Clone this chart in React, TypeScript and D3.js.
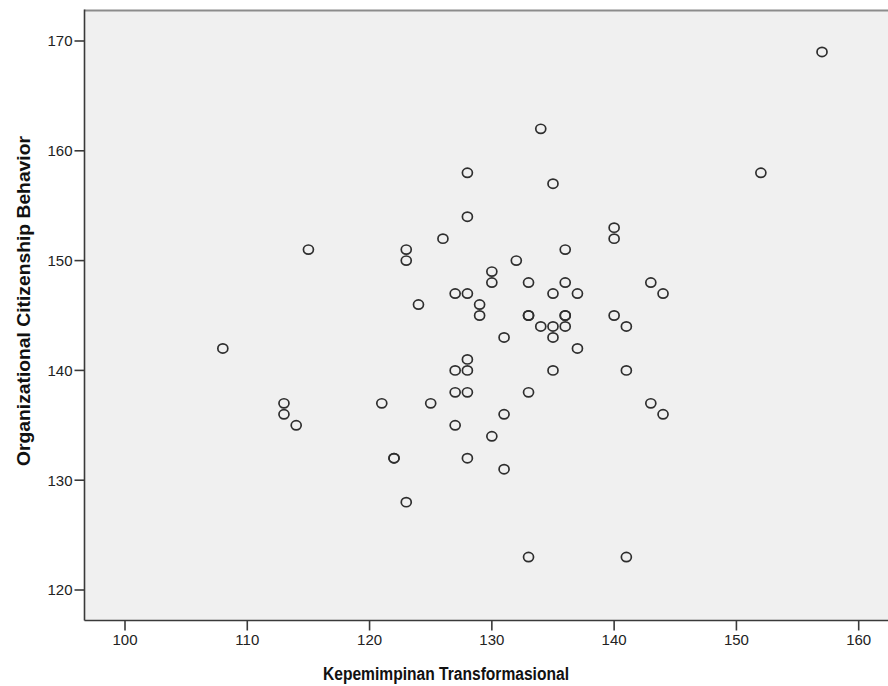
import React from "react";
import * as d3 from "d3";

const xValues = [
  108, 113, 113, 114, 115, 121, 122, 122, 123, 123, 123, 124, 125, 126,
  127, 127, 127, 127, 128, 128, 128, 128, 128, 128, 128, 129, 129,
  130, 130, 130, 131, 131, 131, 132, 133, 133, 133, 133, 133, 134, 134,
  135, 135, 135, 135, 135, 136, 136, 136, 136, 136, 137, 137,
  140, 140, 140, 141, 141, 141, 143, 143, 144, 144, 152, 157,
];
const yValues = [
  142, 137, 136, 135, 151, 137, 132, 132, 151, 150, 128, 146, 137, 152,
  147, 140, 138, 135, 158, 154, 147, 141, 140, 138, 132, 146, 145,
  149, 148, 134, 143, 136, 131, 150, 148, 145, 145, 138, 123, 162, 144,
  157, 147, 144, 143, 140, 151, 148, 145, 145, 144, 147, 142,
  153, 152, 145, 144, 140, 123, 148, 137, 147, 136, 158, 169,
];
const xTicks = [100, 110, 120, 130, 140, 150, 160];
const yTicks = [120, 130, 140, 150, 160, 170];
const xTitle = "Kepemimpinan Transformasional";
const yTitle = "Organizational Citizenship Behavior";

const W = 888;
const H = 686;
const left = 84.5;
const top = 10.5;
const bottom = 620.5;

export default function App() {
  const x = d3.scaleLinear().domain([100, 160]).range([125, 858.7]);
  const y = d3.scaleLinear().domain([120, 170]).range([590, 41]);
  const font = "'Liberation Sans', Arial, sans-serif";
  const points = xValues.map((v, i) => ({ x: v, y: yValues[i] }));
  return (
    <svg
      width={W}
      height={H}
      style={{ position: "absolute", left: 0, top: 0, background: "#ffffff" }}
    >
      <rect x={left} y={top} width={W - left} height={bottom - top} fill="#f0f0f0" />
      <line x1={left} x2={W} y1={top} y2={top} stroke="#8c8c8c" strokeWidth={2} />
      {points.map((p, i) => (
        <ellipse
          key={i}
          cx={x(p.x)}
          cy={y(p.y)}
          rx={5}
          ry={4.6}
          fill="none"
          stroke="#2e2e2e"
          strokeWidth={1.7}
        />
      ))}
      <line x1={left} x2={left} y1={top - 1} y2={bottom} stroke="#3a3a3a" strokeWidth={1.6} />
      <line x1={left} x2={W} y1={bottom} y2={bottom} stroke="#3a3a3a" strokeWidth={1.6} />
      {yTicks.map((t) => (
        <g key={t}>
          <line x1={left - 10} x2={left} y1={y(t)} y2={y(t)} stroke="#3a3a3a" strokeWidth={1.6} />
          <text
            x={left - 12}
            y={y(t)}
            dy="0.36em"
            textAnchor="end"
            fontFamily={font}
            fontSize={15}
            fill="#222"
          >
            {t}
          </text>
        </g>
      ))}
      {xTicks.map((t) => (
        <g key={t}>
          <line x1={x(t)} x2={x(t)} y1={bottom} y2={bottom + 10} stroke="#3a3a3a" strokeWidth={1.6} />
          <text
            x={x(t)}
            y={645}
            textAnchor="middle"
            fontFamily={font}
            fontSize={15}
            fill="#222"
          >
            {t}
          </text>
        </g>
      ))}
      <text
        x={323}
        y={680}
        textAnchor="start"
        fontFamily={font}
        fontSize={18}
        fontWeight="bold"
        fill="#111"
        textLength={246}
        lengthAdjust="spacingAndGlyphs"
      >
        {xTitle}
      </text>
      <text
        transform={`translate(30, 466) rotate(-90)`}
        textAnchor="start"
        fontFamily={font}
        fontSize={18}
        fontWeight="bold"
        fill="#111"
        textLength={330}
        lengthAdjust="spacingAndGlyphs"
      >
        {yTitle}
      </text>
    </svg>
  );
}
